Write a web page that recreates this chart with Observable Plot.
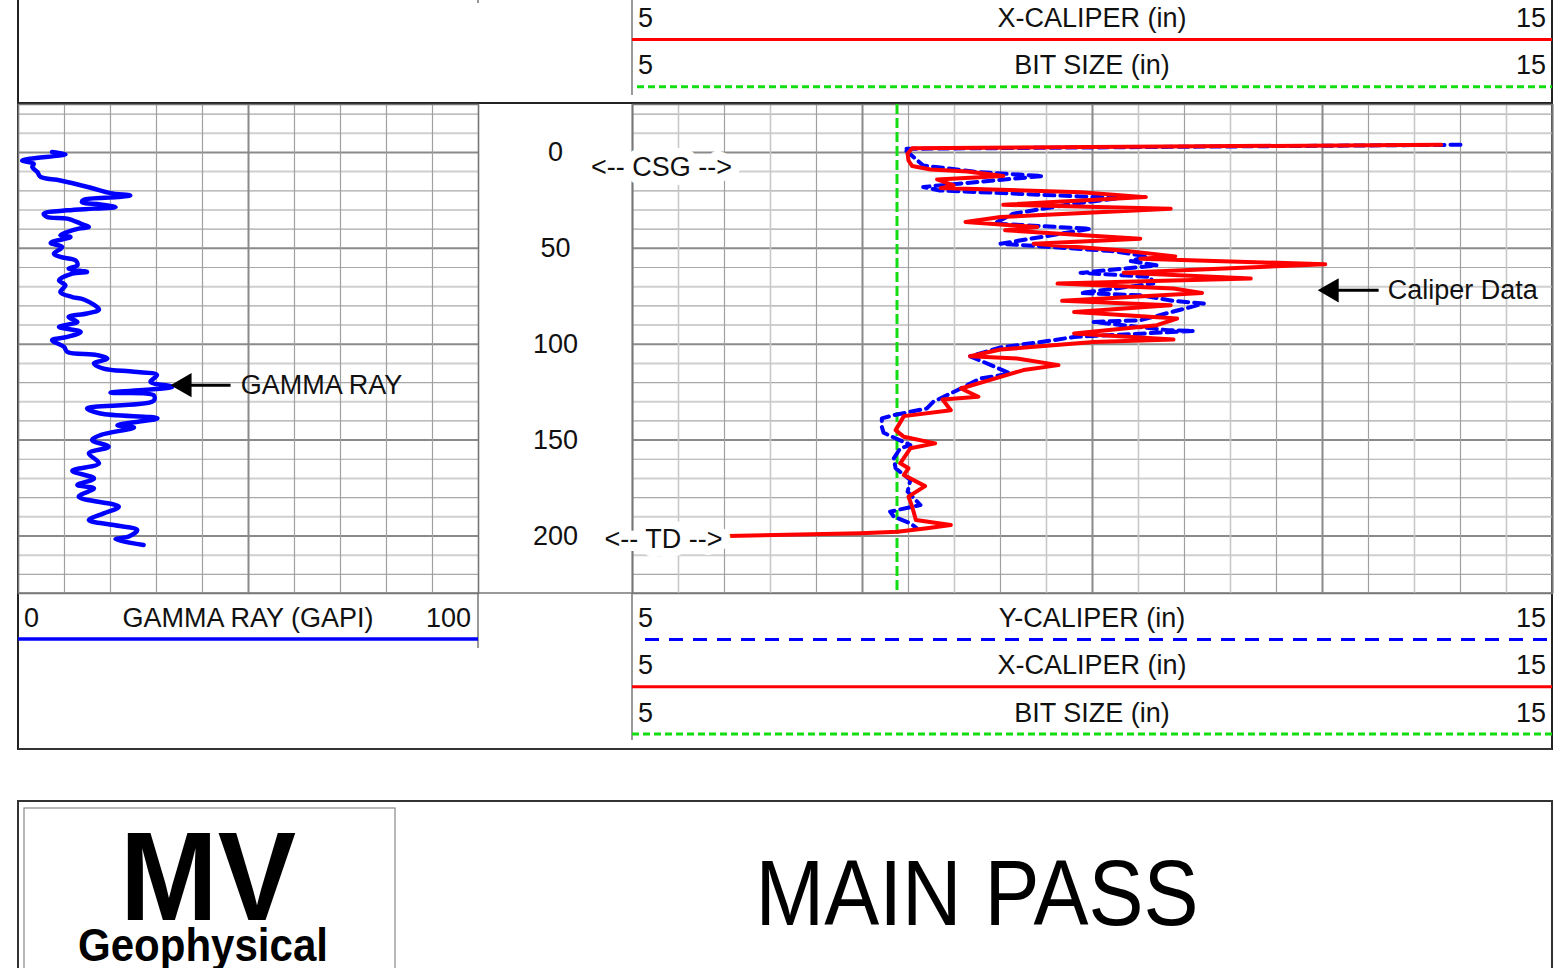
<!DOCTYPE html>
<html>
<head>
<meta charset="utf-8">
<script src="https://cdn.jsdelivr.net/npm/d3@7"></script>
<script src="https://cdn.jsdelivr.net/npm/@observablehq/plot@0.6"></script>
<style>
  html, body { margin: 0; padding: 0; background: #fff; }
  #page { position: relative; width: 1568px; height: 968px; overflow: hidden; font-family: "Liberation Sans", Arial, sans-serif; }
  #page > svg.frame { position: absolute; left: 0; top: 0; }
  .track { position: absolute; }
</style>
</head>
<body>
<div id="page"></div>
<script>
// ---------------- data ----------------
const gammaDepth = [-0.2, 1.0, 4.2, 5.9, 7.6, 10.2, 12.8, 14.6, 18.4, 21.2, 22.4, 23.3, 24.7, 25.9, 27.1, 28.5, 29.3, 30.2, 31.9, 33.7, 34.5, 37.1, 38.9, 39.7, 41.5, 43.2, 44.1, 47.2, 49.3, 52.8, 54.5, 56.3, 58.9, 60.6, 62.3, 63.2, 66.7, 69.3, 72.8, 75.4, 76.7, 81.9, 84, 85.8, 88.4, 91, 93.6, 96.2, 97.9, 101.4, 104, 105.7, 107.5, 110.1, 112.7, 114.4, 116.1, 119.6, 122.2, 125.3, 126.6, 129.5, 133.5, 136.1, 138.7, 142.2, 143.4, 147.4, 150, 153.5, 156.9, 162.1, 166, 170, 173.4, 175.2, 179.5, 184.7, 188.2, 191.7, 194.3, 196.9, 200.3, 201.7, 204.7];
const gammaValue = [7.3, 10.2, 0.8, 3.3, 3.0, 4.1, 4.8, 9.1, 15.7, 20.0, 24.3, 21.5, 14.2, 13.8, 17.8, 21.1, 16.4, 10.6, 5.5, 6.2, 10.6, 13.5, 15.3, 13.1, 10.6, 9.1, 11.3, 7.0, 9.5, 7.7, 9.1, 12.4, 12.8, 10.9, 14.9, 11.7, 8.8, 10.2, 9.1, 11.7, 14.2, 17.5, 14.9, 10.9, 12.8, 8.8, 13.5, 10.6, 7.3, 9.9, 10.6, 17.1, 19.3, 16.4, 18.5, 25.1, 30.1, 28.7, 33.4, 20.0, 29.4, 29.4, 14.9, 17.8, 30.2, 21.5, 25.1, 17.8, 16.0, 19.6, 15.3, 17.5, 11.7, 16.4, 12.8, 16.4, 13.1, 21.8, 18.5, 15.3, 20.7, 25.8, 24.0, 21.1, 27.2];

const xCalDepth = [-4.0, -2.2, 0.7, 4.2, 7.1, 8.9, 9.9, 12.3, 14.1, 17.2, 18.6, 20.7, 23.3, 27.3, 29.3, 33.7, 36.3, 38.9, 40.6, 45, 47.6, 51, 54.2, 55.4, 58.3, 62.7, 65.8, 68.4, 71, 73.3, 77.4, 79.7, 83.2, 86.6, 90.1, 94.4, 97.6, 98.8, 102.8, 106.3, 107.5, 110.9, 113.5, 117, 123.1, 127.4, 128.8, 134.4, 137.5, 144.8, 148.3, 151.7, 154.3, 162.1, 164.7, 168.2, 174, 179.5, 184.7, 191.7, 194.3, 196, 197.8, 198.6, 200];
const xCalValue = [13.79, 8.04, 7.99, 8.0, 8.04, 8.24, 8.64, 9.03, 8.31, 8.49, 8.35, 9.87, 10.58, 9.03, 10.85, 9.0, 8.62, 9.4, 9.05, 10.52, 9.36, 10.3, 10.9, 10.52, 12.53, 10.34, 11.72, 9.62, 10.88, 11.19, 9.67, 10.85, 9.8, 10.92, 10.7, 9.8, 10.88, 10.01, 9.0, 8.67, 9.18, 9.63, 9.25, 9.0, 8.57, 8.76, 8.37, 8.46, 7.95, 7.86, 7.95, 8.29, 8.02, 7.91, 8.0, 7.95, 8.18, 8.0, 8.04, 8.08, 8.46, 8.2, 7.88, 7.48, 6.03];

const yCalDepth = [-4.0, -1.9, 6.8, 10.2, 12.3, 18, 19.8, 23.3, 23.8, 26.7, 31.9, 37.1, 39.8, 47.6, 51.4, 54.2, 56.6, 58.9, 62.8, 64.9, 68.4, 73.3, 74.5, 77.4, 78.8, 87.5, 88.4, 92.7, 93.1, 96.2, 97.9, 101.7, 106.3, 115.3, 117.9, 124, 130, 133.5, 137, 138.7, 143.1, 146.2, 152.6, 154.3, 159.5, 164.7, 170.8, 176.9, 183.9, 187.3, 189.9, 193.4, 196];
const yCalValue = [14.0, 7.95, 8.16, 8.75, 9.46, 8.16, 8.33, 10.05, 10.3, 9.8, 9.14, 8.93, 9.98, 9.0, 10.2, 10.6, 10.41, 10.7, 9.87, 10.63, 10.66, 9.87, 10.52, 10.88, 11.21, 10.52, 10.01, 10.82, 11.1, 9.8, 9.58, 9.0, 8.67, 9.11, 8.78, 8.53, 8.27, 8.2, 7.84, 7.71, 7.71, 7.73, 8.02, 7.91, 7.84, 7.86, 8.02, 7.99, 8.13, 7.8, 7.84, 8.02, 8.09];

const bitSize = [7.875];

const depthDomain = [-25, 230];
const depthLabels = [0, 50, 100, 150, 200];
const depthGrid = [-20, -10, 0, 10, 20, 30, 40, 50, 60, 70, 80, 90, 100, 110, 120, 130, 140, 150, 160, 170, 180, 190, 200, 210, 220];
const gammaDomain = [0, 100];
const gammaGrid = [0, 10, 20, 30, 40, 50, 60, 70, 80, 90, 100];
const caliperDomain = [5, 15];
const caliperGrid = [5, 5.5, 6, 6.5, 7, 7.5, 8, 8.5, 9, 9.5, 10, 10.5, 11, 11.5, 12, 12.5, 13, 13.5, 14, 14.5, 15];

const annotations = {
  gamma: {x1: 46.1, x2: 34.8, depth: 121.4, textX: 48.3, text: "GAMMA RAY"},
  caliper: {x1: 13.11, x2: 12.5, depth: 71.9, textX: 13.21, text: "Caliper Data"},
  csg: {x: 5.315, depth: 7.8, text: "<-- CSG -->"},
  td: {x: 5.337, depth: 202, text: "<-- TD -->"}
};

const headerTop = [
  {lo: "5", name: "X-CALIPER (in)", hi: "15", color: "#ff0000", dash: null},
  {lo: "5", name: "BIT SIZE (in)", hi: "15", color: "#11dd11", dash: "7,4"}
];
const headerBottom = [
  {lo: "5", name: "Y-CALIPER (in)", hi: "15", color: "#0000ff", dash: "14,10"},
  {lo: "5", name: "X-CALIPER (in)", hi: "15", color: "#ff0000", dash: null},
  {lo: "5", name: "BIT SIZE (in)", hi: "15", color: "#11dd11", dash: "7,4"}
];
const gammaHeader = {lo: "0", name: "GAMMA RAY (GAPI)", hi: "100", color: "#0000ff"};

// ---------------- tables ----------------
const gamma = gammaDepth.map((d, i) => ({depth: d, value: gammaValue[i]}));
const xCal = xCalDepth.map((d, i) => ({depth: d, value: xCalValue[i]}));
const yCal = yCalDepth.map((d, i) => ({depth: d, value: yCalValue[i]}));

const FONT = '"Liberation Sans", Arial, sans-serif';
const page = document.getElementById("page");

// ---------------- page frame & headers (plain SVG) ----------------
const NS = "http://www.w3.org/2000/svg";
const fr = document.createElementNS(NS, "svg");
fr.setAttribute("class", "frame");
fr.setAttribute("width", 1568);
fr.setAttribute("height", 968);
function el(tag, attrs, text) {
  const e = document.createElementNS(NS, tag);
  for (const k in attrs) e.setAttribute(k, attrs[k]);
  if (text != null) e.textContent = text;
  fr.appendChild(e);
  return e;
}
function line(x1, y1, x2, y2, stroke, w, dash) {
  const a = {x1, y1, x2, y2, stroke, "stroke-width": w};
  if (dash) a["stroke-dasharray"] = dash;
  return el("line", a);
}
function txt(x, y, s, anchor, size) {
  return el("text", {x, y, "text-anchor": anchor, "font-size": size || 27, "font-family": FONT, fill: "#111"}, s);
}
// outer borders
line(18, 0, 18, 750, "#222", 2);
line(1552, 0, 1552, 750, "#222", 2);
line(18, 103, 1552, 103, "#222", 2);
line(18, 593, 1552, 593, "#777", 1.5);
line(18, 749, 1552, 749, "#333", 2);
line(632, 0, 632, 95, "#777", 1.5);
line(478, 0, 478, 3, "#777", 1.5);
line(632, 593, 632, 740, "#777", 1.5);
line(478, 593, 478, 648, "#777", 1.5);
// top header rows (cut off at top)
headerTop.forEach((h, i) => {
  const cy = 17 + i * 47.3;
  txt(638, cy + 10, h.lo, "start");
  txt(1092, cy + 10, h.name, "middle");
  txt(1546, cy + 10, h.hi, "end");
  line(h.dash ? 637 : 632, cy + 22.5, 1552, cy + 22.5, h.color, 3, h.dash);
});
// bottom header rows
headerBottom.forEach((h, i) => {
  const cy = 617 + i * 47.3;
  txt(638, cy + 10, h.lo, "start");
  txt(1092, cy + 10, h.name, "middle");
  txt(1546, cy + 10, h.hi, "end");
  line(h.dash === "14,10" ? 645 : 632, cy + 22.5, 1552, cy + 22.5, h.color, 3, h.dash);
});
txt(24, 627, gammaHeader.lo, "start");
txt(248, 627, gammaHeader.name, "middle");
txt(471, 627, gammaHeader.hi, "end");
line(18, 639, 478, 639, gammaHeader.color, 3.5);
// footer
el("rect", {x: 18, y: 801, width: 1534, height: 220, fill: "none", stroke: "#333", "stroke-width": 2});
el("rect", {x: 24, y: 808, width: 371, height: 220, fill: "none", stroke: "#888", "stroke-width": 1.2});
el("text", {x: 208, y: 920, "text-anchor": "middle", "font-size": 126, "font-weight": 900, "font-family": FONT, textLength: 176, lengthAdjust: "spacingAndGlyphs", fill: "#000"}, "MV");
el("text", {x: 203, y: 961, "text-anchor": "middle", "font-size": 46, "font-weight": 700, "font-family": FONT, textLength: 250, lengthAdjust: "spacingAndGlyphs", fill: "#000"}, "Geophysical");
el("text", {x: 977, y: 925, "text-anchor": "middle", "font-size": 92, "font-family": FONT, textLength: 443, lengthAdjust: "spacingAndGlyphs", fill: "#000"}, "MAIN PASS");
page.appendChild(fr);

// ---------------- helpers ----------------
const minorH = depthGrid.filter(d => d % 50 !== 0 && Math.abs(d) % 20 === 10);
const evenH = depthGrid.filter(d => d % 50 !== 0 && Math.abs(d) % 20 === 0);
const majorH = depthGrid.filter(d => d % 50 === 0);

function hGrid() {
  return [
    Plot.ruleY(minorH, {y: d => d, stroke: "#cfcfcf", strokeWidth: 2}),
    Plot.ruleY(evenH, {y: d => d, stroke: "#a8a8a8", strokeWidth: 1.2}),
    Plot.ruleY(majorH, {y: d => d, stroke: "#8a8a8a", strokeWidth: 2})
  ];
}

// ---------------- gamma track ----------------
const gammaPlot = Plot.plot({
  width: 460, height: 489,
  marginTop: 0, marginRight: 0, marginBottom: 0, marginLeft: 0,
  style: {fontFamily: FONT, background: "transparent", overflow: "visible"},
  x: {domain: gammaDomain, axis: null},
  y: {domain: depthDomain, reverse: true, axis: null},
  marks: [
    ...hGrid(),
    Plot.ruleX(gammaGrid.filter(g => g !== 50), {x: d => d, stroke: "#a0a0a0", strokeWidth: 1.2}),
    Plot.ruleX([50], {x: d => d, stroke: "#8a8a8a", strokeWidth: 2}),
    Plot.frame({stroke: "#777", strokeWidth: 1.5}),
    Plot.line(gamma, {x: "value", y: "depth", stroke: "#0000ff", strokeWidth: 4.5, strokeLinejoin: "round", strokeLinecap: "round", curve: "catmull-rom"}),
    Plot.link([annotations.gamma], {x1: "x1", x2: d => d.x2 + 2.5, y1: "depth", y2: "depth", stroke: "#000", strokeWidth: 3}),
    Plot.dot([annotations.gamma], {x: d => d.x2 + 1.3, y: "depth", symbol: "triangle", rotate: -90, r: 9, fill: "#000", stroke: "none"}),
    Plot.text([annotations.gamma], {x: "textX", y: "depth", text: "text", textAnchor: "start", fontSize: 27, fill: "#111"})
  ]
});
gammaPlot.classList.add("track");
gammaPlot.style.left = "18px";
gammaPlot.style.top = "104px";
page.appendChild(gammaPlot);

// ---------------- caliper track (with depth labels) ----------------
const calPlot = Plot.plot({
  width: 1074, height: 489,
  marginTop: 0, marginRight: 0, marginBottom: 0, marginLeft: 154,
  style: {fontFamily: FONT, background: "transparent", overflow: "visible"},
  x: {domain: caliperDomain, axis: null},
  y: {domain: depthDomain, reverse: true, axis: null},
  marks: [
    ...hGrid(),
    Plot.ruleX(caliperGrid.filter(c => c % 2.5 !== 0 && c % 1 !== 0), {x: d => d, stroke: "#c8c8c8", strokeWidth: 1.6}),
    Plot.ruleX(caliperGrid.filter(c => c % 2.5 !== 0 && c % 1 === 0), {x: d => d, stroke: "#a0a0a0", strokeWidth: 1.2}),
    Plot.ruleX(caliperGrid.filter(c => c % 2.5 === 0), {x: d => d, stroke: "#8a8a8a", strokeWidth: 2}),
    Plot.frame({stroke: "#777", strokeWidth: 1.5}),
    Plot.text(depthLabels, {x: caliperDomain[0], y: d => d, dx: -77, text: d => String(d), fontSize: 27, fill: "#111"}),
    Plot.ruleX(bitSize, {x: d => d, stroke: "#11dd11", strokeWidth: 3, strokeDasharray: "10,4"}),
    Plot.line(yCal, {x: "value", y: "depth", stroke: "#0000ff", strokeWidth: 4, strokeDasharray: "10,6"}),
    Plot.line(xCal, {x: "value", y: "depth", stroke: "#ff0000", strokeWidth: 4, strokeLinejoin: "round"}),
    Plot.text([annotations.csg, annotations.td], {x: "x", y: "depth", text: "text", fontSize: 27, fill: "#111", stroke: "white", strokeWidth: 18, strokeLinejoin: "round", paintOrder: "stroke"}),
    Plot.link([annotations.caliper], {x1: "x1", x2: d => d.x2 + 0.05, y1: "depth", y2: "depth", stroke: "#000", strokeWidth: 3}),
    Plot.dot([annotations.caliper], {x: d => d.x2 + 0.1, y: "depth", symbol: "triangle", rotate: -90, r: 9, fill: "#000", stroke: "none"}),
    Plot.text([annotations.caliper], {x: "textX", y: "depth", text: "text", textAnchor: "start", fontSize: 27, fill: "#111"})
  ]
});
calPlot.classList.add("track");
calPlot.style.left = "478px";
calPlot.style.top = "104px";
page.appendChild(calPlot);
</script>
</body>
</html>
